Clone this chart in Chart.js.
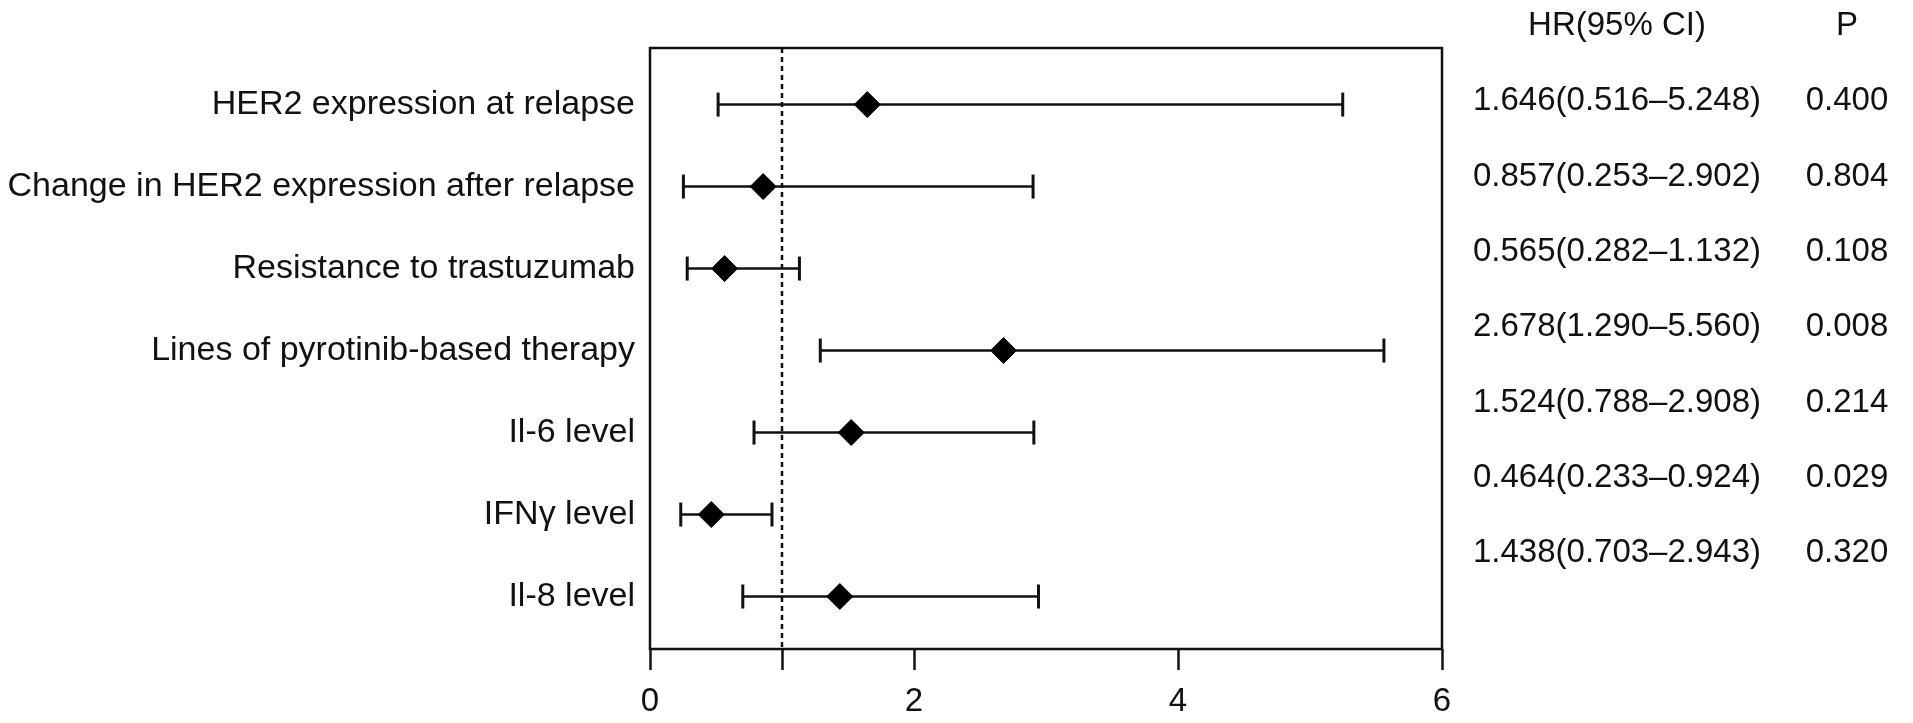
<!DOCTYPE html>
<html>
<head>
<meta charset="utf-8">
<script src="https://cdn.jsdelivr.net/npm/chart.js@4"></script>
<style>
  html, body { margin: 0; padding: 0; background: #fff; }
  #wrap { width: 1913px; height: 723px; position: relative; }
</style>
</head>
<body>
<div id="wrap"><canvas id="forestChart"></canvas></div>
<script>
// data
const factors = [
    'HER2 expression at relapse',
    'Change in HER2 expression after relapse',
    'Resistance to trastuzumab',
    'Lines of pyrotinib-based therapy',
    'Il-6 level',
    'IFNγ level',
    'Il-8 level'
];
const hr = [1.646, 0.857, 0.565, 2.678, 1.524, 0.464, 1.438];
const ciLower = [0.516, 0.253, 0.282, 1.290, 0.788, 0.233, 0.703];
const ciUpper = [5.248, 2.902, 1.132, 5.560, 2.908, 0.924, 2.943];
const pValues = ['0.400', '0.804', '0.108', '0.008', '0.214', '0.029', '0.320'];
const xTicks = [0, 1, 2, 4, 6];
const xTickLabels = ['0', '', '2', '4', '6'];
const refLine = 1;

const FONT = '"Liberation Sans", Arial, sans-serif';
const INK = '#111';
const Y_MIN = 0.31, Y_MAX = 7.64;

const rows = factors.map((_, i) => i + 1);

// one little line per row for the confidence interval, with end caps
const whiskerSets = rows.map((y, i) => ({
    type: 'line',
    data: [{x: ciLower[i], y}, {x: ciUpper[i], y}],
    borderColor: INK,
    borderWidth: 2.5,
    pointStyle: 'line',
    rotation: 90,
    pointRadius: 12,
    pointBorderWidth: 3,
    pointBorderColor: INK,
    order: 2
}));

// box around the plot + right hand table
const frameAndTable = {
    id: 'frameAndTable',
    afterDatasetsDraw(chart) {
        const {ctx, chartArea: a} = chart;
        ctx.save();
        ctx.strokeStyle = INK;
        ctx.lineWidth = 2.5;
        ctx.strokeRect(a.left, a.top, a.right - a.left, a.bottom - a.top);

        ctx.fillStyle = INK;
        ctx.font = '33px ' + FONT;
        ctx.textAlign = 'center';
        ctx.textBaseline = 'middle';
        const hrX = 1617, pX = 1847, top = 26, step = 75.3;
        ctx.fillText('HR(95% CI)', hrX, top);
        ctx.fillText('P', pX, top);
        hr.forEach((v, i) => {
            const y = top + step * (i + 1);
            const txt = v.toFixed(3) + '(' + ciLower[i].toFixed(3) + '–' + ciUpper[i].toFixed(3) + ')';
            ctx.fillText(txt, hrX, y);
            ctx.fillText(pValues[i], pX, y);
        });
        ctx.restore();
    }
};

new Chart(document.getElementById('forestChart'), {
    type: 'scatter',
    data: {
        datasets: [
            {
                // hazard ratio diamonds
                data: rows.map((y, i) => ({x: hr[i], y})),
                pointStyle: 'rectRot',
                pointRadius: 13,
                backgroundColor: '#000',
                borderColor: '#000',
                borderWidth: 1,
                order: 0
            },
            ...whiskerSets,
            {
                // dashed reference line at HR = 1
                type: 'line',
                data: [{x: refLine, y: Y_MIN}, {x: refLine, y: Y_MAX}],
                borderColor: INK,
                borderWidth: 2.5,
                borderDash: [5, 4],
                pointRadius: 0,
                order: 3
            }
        ]
    },
    options: {
        responsive: true,
        maintainAspectRatio: false,
        animation: false,
        events: [],
        layout: {
            padding: {left: 0, right: 471, top: 48, bottom: 0}
        },
        plugins: {
            legend: {display: false},
            tooltip: {enabled: false}
        },
        scales: {
            x: {
                type: 'linear',
                min: 0,
                max: 6,
                afterBuildTicks: scale => {
                    scale.ticks = xTicks.map(v => ({value: v}));
                },
                afterFit: scale => { scale.height = 74; },
                border: {display: false},
                grid: {
                    drawOnChartArea: false,
                    drawTicks: true,
                    tickLength: 21,
                    tickWidth: 2.5,
                    tickColor: INK
                },
                ticks: {
                    autoSkip: false,
                    maxRotation: 0,
                    padding: 12,
                    color: INK,
                    font: {family: FONT, size: 33},
                    callback: (value, idx) => xTickLabels[idx]
                }
            },
            y: {
                type: 'linear',
                reverse: true,
                min: Y_MIN,
                max: Y_MAX,
                afterBuildTicks: scale => {
                    scale.ticks = rows.map(v => ({value: v}));
                },
                afterFit: scale => { scale.width = 650; },
                border: {display: false},
                grid: {display: false, drawTicks: false},
                ticks: {
                    autoSkip: false,
                    padding: 15,
                    color: INK,
                    font: {family: FONT, size: 34},
                    callback: (value, idx) => factors[idx]
                }
            }
        }
    },
    plugins: [frameAndTable]
});
</script>
</body>
</html>
